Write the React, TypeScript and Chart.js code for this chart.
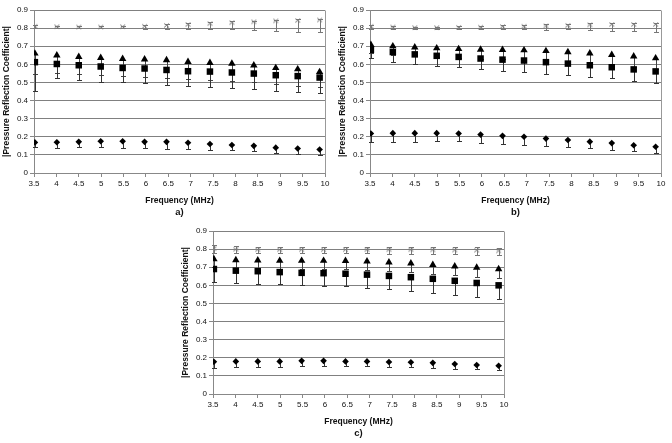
import React, { useEffect, useRef } from "react";
import { Chart, registerables } from "chart.js";
Chart.register(...registerables);

// Shared axes
const FREQ = [3.52, 4.01, 4.5, 4.99, 5.48, 5.97, 6.46, 6.94, 7.43, 7.92, 8.41, 8.9, 9.39, 9.88];
const X_MIN = 3.5;
const X_MAX = 10;
const X_STEP = 0.5;
const Y_MIN = 0;
const Y_MAX = 0.9;
const Y_STEP = 0.1;
const X_TITLE = "Frequency (MHz)";
const Y_TITLE = "|Pressure Reflection Coefficient|";

// a)
const A_STAR = [0.81, 0.808, 0.806, 0.806, 0.808, 0.81, 0.815, 0.82, 0.825, 0.83, 0.835, 0.84, 0.842, 0.845];
const A_STAR_LOW = [0.8, 0.8, 0.8, 0.8, 0.8, 0.797, 0.797, 0.795, 0.793, 0.795, 0.79, 0.784, 0.78, 0.78];
const A_STAR_HIGH = [0.815, 0.813, 0.811, 0.811, 0.814, 0.817, 0.822, 0.827, 0.832, 0.837, 0.842, 0.847, 0.849, 0.852];
const A_TRI = [0.66, 0.65, 0.641, 0.636, 0.63, 0.628, 0.623, 0.614, 0.608, 0.604, 0.595, 0.58, 0.573, 0.558];
const A_TRI_LOW = [0.547, 0.55, 0.545, 0.54, 0.535, 0.53, 0.525, 0.52, 0.515, 0.51, 0.5, 0.49, 0.48, 0.475];
const A_SQ = [0.612, 0.602, 0.595, 0.588, 0.58, 0.577, 0.569, 0.562, 0.56, 0.555, 0.549, 0.54, 0.535, 0.527];
const A_SQ_LOW = [0.455, 0.525, 0.515, 0.505, 0.5, 0.495, 0.488, 0.48, 0.475, 0.47, 0.462, 0.455, 0.447, 0.44];
const A_DIA = [0.169, 0.17, 0.172, 0.175, 0.175, 0.172, 0.172, 0.167, 0.16, 0.155, 0.15, 0.14, 0.135, 0.13];
const A_DIA_LOW = [0.143, 0.14, 0.145, 0.145, 0.14, 0.14, 0.135, 0.13, 0.128, 0.125, 0.12, 0.11, 0.105, 0.1];

// b)
const B_STAR = [0.81, 0.806, 0.803, 0.803, 0.804, 0.805, 0.808, 0.81, 0.812, 0.815, 0.818, 0.82, 0.82, 0.82];
const B_STAR_LOW = [0.795, 0.797, 0.797, 0.797, 0.796, 0.795, 0.794, 0.793, 0.792, 0.794, 0.79, 0.786, 0.784, 0.78];
const B_STAR_HIGH = [0.815, 0.811, 0.808, 0.808, 0.81, 0.812, 0.815, 0.818, 0.821, 0.824, 0.827, 0.83, 0.83, 0.83];
const B_TRI = [0.708, 0.7, 0.694, 0.689, 0.685, 0.681, 0.68, 0.678, 0.674, 0.668, 0.661, 0.652, 0.644, 0.634];
const B_TRI_LOW = [0.66, 0.65, 0.645, 0.64, 0.635, 0.63, 0.63, 0.625, 0.62, 0.615, 0.605, 0.595, 0.585, 0.575];
const B_SQ = [0.68, 0.668, 0.655, 0.647, 0.641, 0.632, 0.626, 0.621, 0.612, 0.604, 0.595, 0.584, 0.572, 0.561];
const B_SQ_LOW = [0.633, 0.611, 0.6, 0.59, 0.585, 0.572, 0.565, 0.558, 0.548, 0.543, 0.532, 0.522, 0.507, 0.495];
const B_DIA = [0.218, 0.22, 0.22, 0.22, 0.218, 0.212, 0.205, 0.2, 0.19, 0.182, 0.173, 0.165, 0.153, 0.145];
const B_DIA_LOW = [0.17, 0.172, 0.173, 0.175, 0.175, 0.168, 0.162, 0.157, 0.15, 0.145, 0.138, 0.128, 0.12, 0.113];

// c)
const C_STAR = [0.803, 0.799, 0.797, 0.797, 0.797, 0.797, 0.797, 0.797, 0.797, 0.797, 0.796, 0.795, 0.794, 0.79];
const C_STAR_LOW = [0.78, 0.777, 0.776, 0.776, 0.776, 0.776, 0.776, 0.776, 0.775, 0.775, 0.774, 0.772, 0.77, 0.765];
const C_STAR_HIGH = [0.82, 0.815, 0.813, 0.812, 0.812, 0.812, 0.812, 0.812, 0.812, 0.813, 0.812, 0.811, 0.81, 0.806];
const C_TRI = [0.745, 0.74, 0.738, 0.736, 0.736, 0.736, 0.735, 0.733, 0.727, 0.722, 0.713, 0.705, 0.698, 0.69];
const C_TRI_LOW = [0.7, 0.695, 0.693, 0.69, 0.69, 0.69, 0.688, 0.686, 0.68, 0.675, 0.665, 0.655, 0.648, 0.64];
const C_SQ = [0.69, 0.681, 0.678, 0.673, 0.669, 0.667, 0.664, 0.659, 0.652, 0.645, 0.636, 0.625, 0.613, 0.6];
const C_SQ_LOW = [0.62, 0.615, 0.608, 0.605, 0.6, 0.598, 0.596, 0.585, 0.58, 0.569, 0.56, 0.547, 0.536, 0.523];
const C_DIA = [0.178, 0.18, 0.18, 0.18, 0.183, 0.183, 0.18, 0.18, 0.177, 0.175, 0.172, 0.166, 0.16, 0.156];
const C_DIA_LOW = [0.145, 0.148, 0.15, 0.15, 0.152, 0.152, 0.152, 0.152, 0.15, 0.148, 0.145, 0.14, 0.138, 0.135];

const FONT = "'Liberation Sans', Arial, sans-serif";

type Panel = {
  label: string;
  left: number;
  top: number;
  star: number[]; starLow: number[]; starHigh: number[];
  tri: number[]; triLow: number[];
  sq: number[]; sqLow: number[];
  dia: number[]; diaLow: number[];
};

const PANELS: Panel[] = [
  { label: "a)", left: 0, top: 0, star: A_STAR, starLow: A_STAR_LOW, starHigh: A_STAR_HIGH, tri: A_TRI, triLow: A_TRI_LOW, sq: A_SQ, sqLow: A_SQ_LOW, dia: A_DIA, diaLow: A_DIA_LOW },
  { label: "b)", left: 336, top: 0, star: B_STAR, starLow: B_STAR_LOW, starHigh: B_STAR_HIGH, tri: B_TRI, triLow: B_TRI_LOW, sq: B_SQ, sqLow: B_SQ_LOW, dia: B_DIA, diaLow: B_DIA_LOW },
  { label: "c)", left: 179, top: 221, star: C_STAR, starLow: C_STAR_LOW, starHigh: C_STAR_HIGH, tri: C_TRI, triLow: C_TRI_LOW, sq: C_SQ, sqLow: C_SQ_LOW, dia: C_DIA, diaLow: C_DIA_LOW },
];

const W = 336;
const H = 222;
const Y_AXIS_W = 34;
const X_AXIS_H = 49;

const errorBarPlugin = {
  id: "errorBars",
  beforeDatasetsDraw(chart: any) {
    const ctx = chart.ctx;
    const xs = chart.scales.x;
    const ys = chart.scales.y;
    ctx.save();
    chart.data.datasets.forEach((ds: any) => {
      const low: number[] | undefined = ds.errLow;
      const high: number[] | undefined = ds.errHigh;
      ctx.strokeStyle = ds.errColor || "#333";
      ctx.lineWidth = 1;
      ds.data.forEach((p: any, i: number) => {
        const px = Math.round(xs.getPixelForValue(p.x)) + 0.5;
        const py = ys.getPixelForValue(p.y);
        const cap = 2.5;
        if (low) {
          const ly = Math.round(ys.getPixelForValue(low[i])) + 0.5;
          ctx.beginPath();
          ctx.moveTo(px, py);
          ctx.lineTo(px, ly);
          ctx.moveTo(px - cap, ly);
          ctx.lineTo(px + cap, ly);
          ctx.stroke();
        }
        if (high) {
          const hy = Math.round(ys.getPixelForValue(high[i])) + 0.5;
          ctx.beginPath();
          ctx.moveTo(px, py);
          ctx.lineTo(px, hy);
          ctx.moveTo(px - cap, hy);
          ctx.lineTo(px + cap, hy);
          ctx.stroke();
        }
      });
    });
    ctx.restore();
  },
};

const framePlugin = {
  id: "frame",
  afterDraw(chart: any) {
    const { ctx, chartArea } = chart;
    ctx.save();
    ctx.strokeStyle = "#999";
    ctx.lineWidth = 1;
    ctx.beginPath();
    const r = Math.round(chartArea.right) + 0.5;
    ctx.moveTo(r, Math.round(chartArea.top) + 0.5);
    ctx.lineTo(r, Math.round(chartArea.bottom) + 0.5);
    ctx.stroke();
    ctx.restore();
  },
};

function makeStar(): HTMLCanvasElement {
  const c = document.createElement("canvas");
  c.width = 7;
  c.height = 7;
  const g = c.getContext("2d")!;
  g.strokeStyle = "#777";
  g.lineWidth = 1;
  g.beginPath();
  g.moveTo(1, 1.5); g.lineTo(6, 5.5);
  g.moveTo(6, 1.5); g.lineTo(1, 5.5);
  g.stroke();
  return c;
}

function fmt(v: any) {
  return String(Math.round(Number(v) * 10) / 10);
}

function toPts(vals: number[]) {
  return vals.map((v, i) => ({ x: FREQ[i], y: v }));
}

function PanelChart({ panel }: { panel: Panel }) {
  const ref = useRef<HTMLCanvasElement | null>(null);
  useEffect(() => {
    if (!ref.current) return;
    const star = makeStar();
    const chart = new Chart(ref.current, {
      type: "scatter",
      data: {
        datasets: [
          { data: toPts(panel.star), pointStyle: star as any, pointRadius: 3.5, errLow: panel.starLow, errHigh: panel.starHigh, errColor: "#777" } as any,
          { data: toPts(panel.tri), pointStyle: "triangle", pointRadius: 4.3, backgroundColor: "#000", borderColor: "#000", borderWidth: 0, errLow: panel.triLow, errColor: "#444" } as any,
          { data: toPts(panel.sq), pointStyle: "rect", pointRadius: 4.6, backgroundColor: "#000", borderColor: "#000", borderWidth: 0, errLow: panel.sqLow, errColor: "#333" } as any,
          { data: toPts(panel.dia), pointStyle: "rectRot", pointRadius: 3.3, backgroundColor: "#000", borderColor: "#000", borderWidth: 0, errLow: panel.diaLow, errColor: "#333" } as any,
        ],
      },
      options: {
        animation: false,
        responsive: false,
        maintainAspectRatio: false,
        layout: { padding: { top: 10, right: 11, left: 0, bottom: 0 } },
        plugins: { legend: { display: false }, tooltip: { enabled: false }, title: { display: false } },
        scales: {
          x: {
            type: "linear",
            min: X_MIN,
            max: X_MAX,
            afterFit: (s: any) => { s.height = X_AXIS_H; },
            ticks: { stepSize: X_STEP, color: "#111", font: { family: FONT, size: 8 }, padding: 2, maxRotation: 0, autoSkip: false, callback: fmt },
            grid: { drawOnChartArea: false, drawTicks: true, tickLength: 4, color: "#888" },
            border: { color: "#888" },
            title: { display: true, text: X_TITLE, color: "#111", font: { family: FONT, size: 8.5, weight: "bold" }, padding: { top: 0, bottom: 16 } },
          },
          y: {
            type: "linear",
            min: Y_MIN,
            max: Y_MAX,
            afterFit: (s: any) => { s.width = Y_AXIS_W; },
            ticks: { stepSize: Y_STEP, color: "#111", font: { family: FONT, size: 8 }, padding: 2, callback: fmt },
            grid: { color: "#808080", tickLength: 4, drawTicks: true, tickColor: "#888" },
            border: { color: "#888" },
            title: { display: true, text: Y_TITLE, color: "#111", font: { family: FONT, size: 8.5, weight: "bold" }, padding: { top: 2, bottom: 0 } },
          },
        },
      } as any,
      plugins: [errorBarPlugin, framePlugin],
    });
    return () => chart.destroy();
  }, [panel]);

  return (
    <div style={{ position: "absolute", left: panel.left, top: panel.top, width: W, height: H }}>
      <canvas ref={ref} width={W} height={H} style={{ width: W, height: H, display: "block" }} />
      <div
        style={{
          position: "absolute",
          left: Y_AXIS_W,
          width: W - Y_AXIS_W - 11,
          top: 206,
          textAlign: "center",
          fontFamily: FONT,
          fontWeight: "bold",
          fontSize: 9.5,
          color: "#111",
          lineHeight: "12px",
        }}
      >
        {panel.label}
      </div>
    </div>
  );
}

export default function App() {
  return (
    <div style={{ position: "absolute", left: 0, top: 0, width: 672, height: 443, background: "#fff", overflow: "hidden" }}>
      {PANELS.map((p) => (
        <PanelChart key={p.label} panel={p} />
      ))}
    </div>
  );
}
